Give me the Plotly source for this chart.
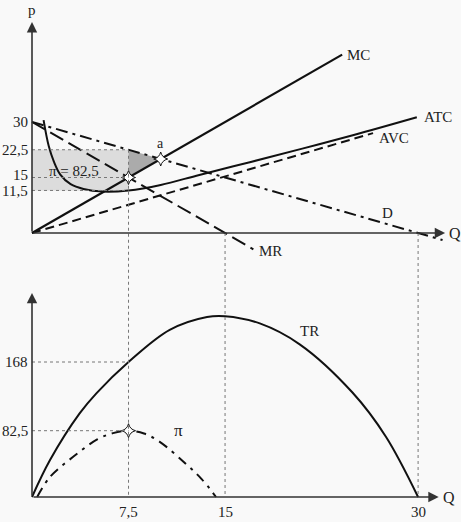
import plotly.graph_objects as go

# ---------------- data ----------------
# top panel (price)
mc_q = [0, 24.1]
mc_p = [0, 48.2]
avc_q = [0, 26.5]
avc_p = [0, 27.0]
d_q = [0, 31.9]
d_p = [30, -1.9]
mr_q = [0, 17.2]
mr_p = [30, -4.4]
atc_q = [0.9, 1.3, 1.7, 2.2, 3.0, 4.0, 5.5, 7.5, 10, 13, 17, 21, 25, 29.9]
atc_p = [30.5, 23.5, 19.3, 15.8, 13.2, 11.9, 11.2, 11.5, 13.0, 15.7, 19.2, 22.8, 26.5, 31.3]
profit_tri_q = [7.5, 10, 7.5]
profit_tri_p = [22.5, 20, 15]
opt_q = 7.5
opt_p = 22.5
opt_mc = 15
opt_atc = 11.5
point_a = (10, 20)
p_ticks = [30, 22.5, 15, 11.5]
p_tick_text = ["30", "22,5", "15", "11,5"]
p_tick_nudge = [0, 0, 3, -1]

# bottom panel (revenue / profit)
tr_q = [0, 1.4, 3.7, 5.0, 7.5, 10.7, 13.6, 15, 17.7, 20.8, 24.9, 27.5, 30]
tr_v = [0, 46, 104, 129, 168, 208, 224, 225, 216, 190, 130, 75, 0]
pi_q = [0.4, 1.4, 3.2, 5.1, 6.3, 7.5, 8.7, 9.9, 11.9, 13.2, 14.3]
pi_v = [0, 25, 50, 72, 79.5, 82.5, 79, 69, 42, 22, 0]
v_ticks = [168, 82.5]
v_tick_text = ["168", "82,5"]
q_ticks = [7.5, 15, 30]
q_tick_text = ["7,5", "15", "30"]

# ---------------- layout helpers ----------------
W, H = 461, 522
X_RANGE = [-32 / 12.87, (W - 32) / 12.87]
Y_RANGE = [(233 - H) / 3.7, 233 / 3.7]
Y2_RANGE = [(497 - H) / 0.8036, 497 / 0.8036]


def y2_to_y(v):
    frac = (v - Y2_RANGE[0]) / (Y2_RANGE[1] - Y2_RANGE[0])
    return Y_RANGE[0] + frac * (Y_RANGE[1] - Y_RANGE[0])


FONT = "Liberation Serif"
INK = "#111"
GUIDE = dict(color="#777", width=1, dash="dot")

fig = go.Figure()

# shaded profit rectangle and triangle
fig.add_shape(type="rect", xref="x", yref="y", x0=0, x1=opt_q, y0=opt_atc, y1=opt_p,
              fillcolor="#dcdcdc", line_width=0, layer="below")
fig.add_trace(go.Scatter(x=profit_tri_q, y=profit_tri_p, fill="toself", fillcolor="#ababab",
                         mode="none", hoverinfo="skip", showlegend=False))

# guide lines top
for val in [opt_p, opt_mc, opt_atc]:
    fig.add_shape(type="line", xref="x", yref="y", x0=0, x1=opt_q, y0=val, y1=val, line=GUIDE)
fig.add_shape(type="line", xref="x", yref="y", x0=opt_q, x1=opt_q, y0=opt_p, y1=y2_to_y(0), line=GUIDE)
for qv in [15, 30]:
    fig.add_shape(type="line", xref="x", yref="y", x0=qv, x1=qv, y0=0, y1=y2_to_y(0), line=GUIDE)
# guide lines bottom
for val in v_ticks:
    fig.add_shape(type="line", xref="x", yref="y2", x0=0, x1=opt_q, y0=val, y1=val, line=GUIDE)

# curves top
fig.add_trace(go.Scatter(x=mc_q, y=mc_p, mode="lines", line=dict(color=INK, width=2.2)))
fig.add_trace(go.Scatter(x=avc_q, y=avc_p, mode="lines", line=dict(color=INK, width=2, dash="9px,5px")))
fig.add_trace(go.Scatter(x=d_q, y=d_p, mode="lines", line=dict(color=INK, width=2, dash="12px,5px,3px,5px")))
fig.add_trace(go.Scatter(x=mr_q, y=mr_p, mode="lines", line=dict(color=INK, width=2, dash="15px,6px")))
fig.add_trace(go.Scatter(x=atc_q, y=atc_p, mode="lines", line=dict(color=INK, width=2, shape="spline")))

# curves bottom
fig.add_trace(go.Scatter(x=tr_q, y=tr_v, yaxis="y2", mode="lines",
                         line=dict(color=INK, width=2, shape="spline")))
fig.add_trace(go.Scatter(x=pi_q, y=pi_v, yaxis="y2", mode="lines",
                         line=dict(color=INK, width=2, shape="spline", dash="10px,6px,3px,6px")))

# star markers
star = dict(symbol="star-diamond", size=10, color="white", line=dict(color=INK, width=1))
fig.add_trace(go.Scatter(x=[opt_q, point_a[0]], y=[opt_mc, point_a[1]], mode="markers", marker=star))
fig.add_trace(go.Scatter(x=[opt_q], y=[82.5], yaxis="y2", mode="markers", marker=star))

# axes with arrows
def axis_arrow(x0, y0, x1, y1, yref):
    fig.add_annotation(x=x1, y=y1, ax=x0, ay=y0, xref="x", yref=yref, axref="x", ayref=yref,
                       showarrow=True, arrowhead=2, arrowsize=1.3, arrowwidth=1.6,
                       arrowcolor="#333", text="")

axis_arrow(0, 0, 0, 57, "y")
axis_arrow(0, 0, 32.1, 0, "y")
axis_arrow(0, 0, 0, 254, "y2")
axis_arrow(0, 0, 31.6, 0, "y2")

def label(x, y, text, yref="y", xanchor="center", yanchor="middle", size=15, xshift=0, yshift=0):
    fig.add_annotation(x=x, y=y, xref="x", yref=yref, text=text, showarrow=False,
                       xanchor=xanchor, yanchor=yanchor, xshift=xshift, yshift=yshift,
                       font=dict(family=FONT, size=size, color="#222"))

label(0, 57, "p", yshift=12)
label(32.1, 0, "Q", xanchor="left", xshift=2, size=16)
label(31.6, 0, "Q", yref="y2", xanchor="left", xshift=2, size=16)
for v, t, n in zip(p_ticks, p_tick_text, p_tick_nudge):
    label(0, v, t, xanchor="right", xshift=-2, yshift=n)
for v, t in zip(v_ticks, v_tick_text):
    label(0, v, t, yref="y2", xanchor="right", xshift=-2)
for v, t in zip(q_ticks, q_tick_text):
    label(v, 0, t, yref="y2", yanchor="top", yshift=-5)

label(mc_q[1], mc_p[1], "MC", xanchor="left", xshift=3)
label(atc_q[-1], atc_p[-1], "ATC", xanchor="left", xshift=5)
label(avc_q[1], avc_p[1], "AVC", xanchor="left", xshift=4, yshift=-5)
label(27.6, 5.4, "D")
label(mr_q[1], mr_p[1], "MR", xanchor="left", xshift=4, yshift=-2)
label(point_a[0], point_a[1], "a", yanchor="bottom", yshift=6, size=14)
label(1.2, 16.8, "π = 82,5", xanchor="left")
label(21.6, 206, "TR", yref="y2")
label(11.4, 83, "π", yref="y2", size=17)

fig.update_layout(
    width=W, height=H, autosize=False,
    margin=dict(l=0, r=0, t=0, b=0),
    paper_bgcolor="#f9f9f9", plot_bgcolor="#f9f9f9",
    showlegend=False,
    xaxis=dict(range=X_RANGE, visible=False, fixedrange=True),
    yaxis=dict(range=Y_RANGE, visible=False, fixedrange=True),
    yaxis2=dict(range=Y2_RANGE, visible=False, overlaying="y", fixedrange=True),
)

fig.write_html(
    "out.html",
    config={"displayModeBar": False},
    post_script="document.body.style.margin='0';document.body.style.overflow='hidden';",
)
